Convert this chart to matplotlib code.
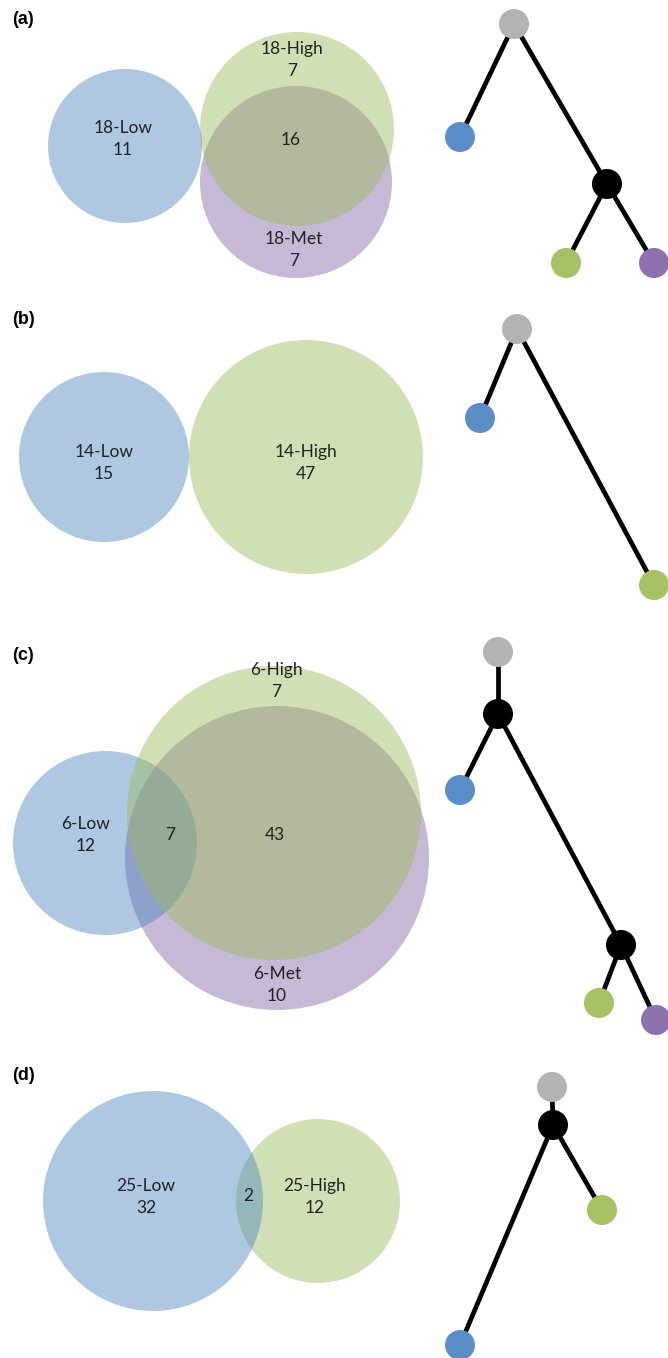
import matplotlib
matplotlib.use('Agg')
import matplotlib.pyplot as plt
from matplotlib.patches import Circle

# data: set names and counts per panel
panel_ids = ['(a)', '(b)', '(c)', '(d)']
a_sets = ['18-Low', '18-High', '18-Met']
a_counts = [11, 7, 7]
a_shared = [16]
b_sets = ['14-Low', '14-High']
b_counts = [15, 47]
c_sets = ['6-Low', '6-High', '6-Met']
c_counts = [12, 7, 10]
c_shared = [7, 43]
d_sets = ['25-Low', '25-High']
d_counts = [32, 12]
d_shared = [2]

# colours
venn_col = {'Low': '#4f85c0', 'High': '#9bbb59', 'Met': '#8064a2'}
node_col = {'root': '#b3b3b3', 'Low': '#5b8ec7', 'High': '#a6c264',
            'Met': '#8e72b0', 'int': 'black'}

fig = plt.figure(figsize=(6.68, 13.58), dpi=100)
ax = fig.add_axes([0, 0, 1, 1])
ax.set_xlim(0, 668)
ax.set_ylim(1358, 0)
ax.axis('off')

FONT = 'Lato'

def circle(x, y, r, kind, z):
    ax.add_patch(Circle((x, y), r, facecolor=venn_col[kind], alpha=0.45,
                        edgecolor='none', zorder=z))

def label(x, y, txt):
    ax.text(x, y, txt, ha='center', va='center', fontsize=12.5,
            family=FONT, color='#222222', zorder=10, linespacing=1.45)

def tree(nodes, edges):
    for i, j in edges:
        ax.plot([nodes[i][0], nodes[j][0]], [nodes[i][1], nodes[j][1]],
                color='black', lw=3.4, solid_capstyle='butt', zorder=5)
    for (x, y, kind) in nodes:
        ax.add_patch(Circle((x, y), 15, facecolor=node_col[kind],
                            edgecolor='none', zorder=6))

# panel letters
for txt, y in zip(panel_ids, [20, 320, 656, 1076]):
    ax.text(12, y, txt, fontsize=13, fontweight='bold', family='Liberation Sans',
            ha='left', va='center')

# (a)
circle(296, 182, 96, 'Met', 1)
circle(297, 129, 97, 'High', 2)
circle(125, 146, 77, 'Low', 3)
label(123, 139, f'{a_sets[0]}\n{a_counts[0]}')
label(292, 60, f'{a_sets[1]}\n{a_counts[1]}')
label(294, 250, f'{a_sets[2]}\n{a_counts[2]}')
label(291, 140, str(a_shared[0]))
tree([(514, 24, 'root'), (460, 137, 'Low'), (607, 184, 'int'),
      (566, 263, 'High'), (654, 263, 'Met')],
     [(0, 1), (0, 2), (2, 3), (2, 4)])

# (b)
circle(104, 457, 85, 'Low', 1)
circle(306, 457, 117, 'High', 1)
label(104, 463, f'{b_sets[0]}\n{b_counts[0]}')
label(306, 463, f'{b_sets[1]}\n{b_counts[1]}')
tree([(517, 329, 'root'), (480, 418, 'Low'), (654, 585, 'High')],
     [(0, 1), (0, 2)])

# (c)
circle(277, 858, 152, 'Met', 1)
circle(105, 843, 92, 'Low', 2)
circle(274, 813, 147, 'High', 3)
label(86, 835, f'{c_sets[0]}\n{c_counts[0]}')
label(276, 681, f'{c_sets[1]}\n{c_counts[1]}')
label(277, 985, f'{c_sets[2]}\n{c_counts[2]}')
label(170, 835, str(c_shared[0]))
label(275, 835, str(c_shared[1]))
tree([(498, 652, 'root'), (498, 714, 'int'), (460, 790, 'Low'),
      (621, 945, 'int'), (599, 1003, 'High'), (656, 1020, 'Met')],
     [(0, 1), (1, 2), (1, 3), (3, 4), (3, 5)])

# (d)
circle(318, 1201, 82, 'High', 1)
circle(153, 1201, 110, 'Low', 2)
label(146, 1197, f'{d_sets[0]}\n{d_counts[0]}')
label(315, 1197, f'{d_sets[1]}\n{d_counts[1]}')
label(248, 1196, str(d_shared[0]))
tree([(552, 1087, 'root'), (553, 1125, 'int'), (602, 1210, 'High'),
      (460, 1345, 'Low')],
     [(0, 1), (1, 2), (1, 3)])

fig.savefig('out.png', dpi=100)
